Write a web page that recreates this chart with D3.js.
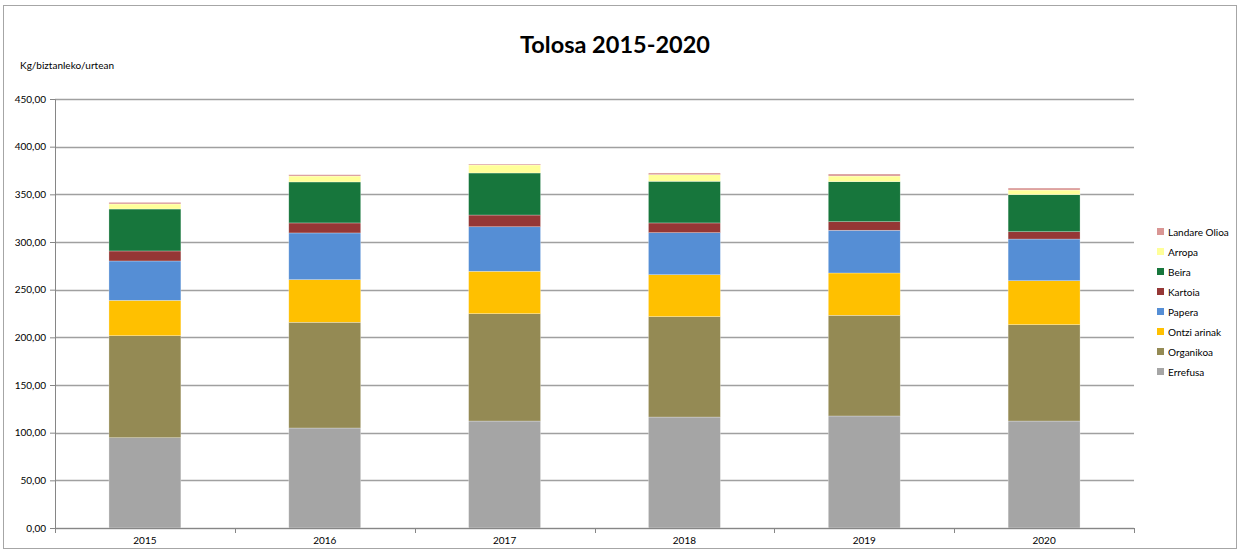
<!DOCTYPE html>
<html>
<head>
<meta charset="utf-8">
<script src="https://d3js.org/d3.v7.min.js"></script>
<style>
  body { margin: 0; background: #fff; }
  * { font-family: Lato, "Liberation Sans", sans-serif; }
  .tick text { font-size: 10px; fill: #000; }
  .legend text { font-size: 10px; fill: #000; }
</style>
</head>
<body>
<script>
// data
var years = ["2015", "2016", "2017", "2018", "2019", "2020"];
var series = ["Errefusa", "Organikoa", "Ontzi arinak", "Papera", "Kartoia", "Beira", "Arropa", "Landare Olioa"];
var colors = ["#a5a5a5", "#948a54", "#ffc000", "#558ed5", "#953735", "#17763c", "#ffff99", "#d99694"];

var errefusa  = [94.7, 104.9, 112.2, 116.4, 117.5, 112.2];
var organikoa = [107.0, 110.9, 112.6, 105.3, 105.6, 101.1];
var ontzi     = [37.1, 44.7, 44.5, 44.0, 44.4, 46.1];
var papera    = [41.3, 49.0, 46.7, 44.1, 44.8, 43.7];
var kartoia   = [10.5, 10.5, 12.3, 10.2, 9.0, 7.7];
var beira     = [44.0, 43.0, 44.1, 43.7, 42.0, 38.8];
var arropa    = [5.3, 6.2, 8.4, 6.9, 5.9, 4.9];
var olioa     = [1.7, 1.4, 1.0, 1.8, 2.1, 2.1];

var yTicks = [0, 50, 100, 150, 200, 250, 300, 350, 400, 450];

var values = [errefusa, organikoa, ontzi, papera, kartoia, beira, arropa, olioa];
var rows = years.map(function(y, i) {
  var r = {year: y};
  series.forEach(function(s, j) { r[s] = values[j][i]; });
  return r;
});

var W = 1240, H = 552;
var margin = {top: 99, right: 106, bottom: 24, left: 55};
var width = W - margin.left - margin.right,
    height = H - margin.top - margin.bottom;

var svg = d3.select("body").append("svg")
  .attr("width", W).attr("height", H);

// outer frame
svg.append("rect")
  .attr("x", 3.5).attr("y", 5.5)
  .attr("width", 1233).attr("height", 543)
  .attr("fill", "none").attr("stroke", "#a6a6a6").attr("stroke-width", 1);

svg.append("text")
  .attr("x", 615).attr("y", 53)
  .attr("text-anchor", "middle")
  .style("font-size", "23.5px").style("font-weight", "bold")
  .text("Tolosa 2015-2020");

svg.append("text")
  .attr("x", 20).attr("y", 69)
  .style("font-size", "10px")
  .text("Kg/biztanleko/urtean");

var g = svg.append("g")
  .attr("transform", "translate(" + margin.left + "," + margin.top + ")");

var x = d3.scaleBand().domain(years).range([0, width]).paddingInner(0.6).paddingOuter(0.3);
var y = d3.scaleLinear().domain([0, 450]).range([height, 0]);

// gridlines
g.append("g").selectAll("line")
  .data(yTicks)
  .enter().append("line")
  .attr("x1", 0).attr("x2", width)
  .attr("y1", function(d) { return Math.round(y(d)) + 0.5; })
  .attr("y2", function(d) { return Math.round(y(d)) + 0.5; })
  .attr("stroke", "#a0a0a0").attr("stroke-width", 1.3);

var stack = d3.stack().keys(series)(rows);

g.append("g").selectAll("g")
  .data(stack)
  .enter().append("g")
  .attr("fill", function(d, i) { return colors[i]; })
  .selectAll("rect")
  .data(function(d) { return d; })
  .enter().append("rect")
  .attr("x", function(d) { return x(d.data.year); })
  .attr("width", x.bandwidth())
  .attr("y", function(d) { return y(d[1]); })
  .attr("height", function(d) { return y(d[0]) - y(d[1]); })
  .attr("stroke", "rgba(255,255,255,0.45)").attr("stroke-width", 0.6);

// y axis
var yAxis = g.append("g")
  .call(d3.axisLeft(y).tickValues(yTicks).tickSize(5).tickPadding(4)
    .tickFormat(function(d) { return d3.format(".2f")(d).replace(".", ","); }));
yAxis.select(".domain").attr("stroke", "#868686");
yAxis.selectAll(".tick line").attr("stroke", "#868686");

// x axis with ticks between categories
var xAxis = g.append("g")
  .attr("transform", "translate(0," + height + ")")
  .call(d3.axisBottom(x).tickSize(0).tickPadding(9));
xAxis.select(".domain").attr("stroke", "#868686");
xAxis.selectAll(".sep")
  .data(d3.range(years.length + 1))
  .enter().append("line")
  .attr("x1", function(i) { return Math.round(i * width / years.length) + 0.5; })
  .attr("x2", function(i) { return Math.round(i * width / years.length) + 0.5; })
  .attr("y1", 0).attr("y2", 5)
  .attr("stroke", "#868686");

// legend, top entry is last series
var legend = svg.append("g").attr("class", "legend")
  .attr("transform", "translate(1157,232)");
var items = legend.selectAll("g")
  .data(series.slice().reverse())
  .enter().append("g")
  .attr("transform", function(d, i) { return "translate(0," + (i * 20) + ")"; });
items.append("rect")
  .attr("x", 0).attr("y", -4).attr("width", 7).attr("height", 7)
  .attr("fill", function(d) { return colors[series.indexOf(d)]; });
items.append("text")
  .attr("x", 11).attr("y", 3.5)
  .text(function(d) { return d; });
</script>
</body>
</html>
